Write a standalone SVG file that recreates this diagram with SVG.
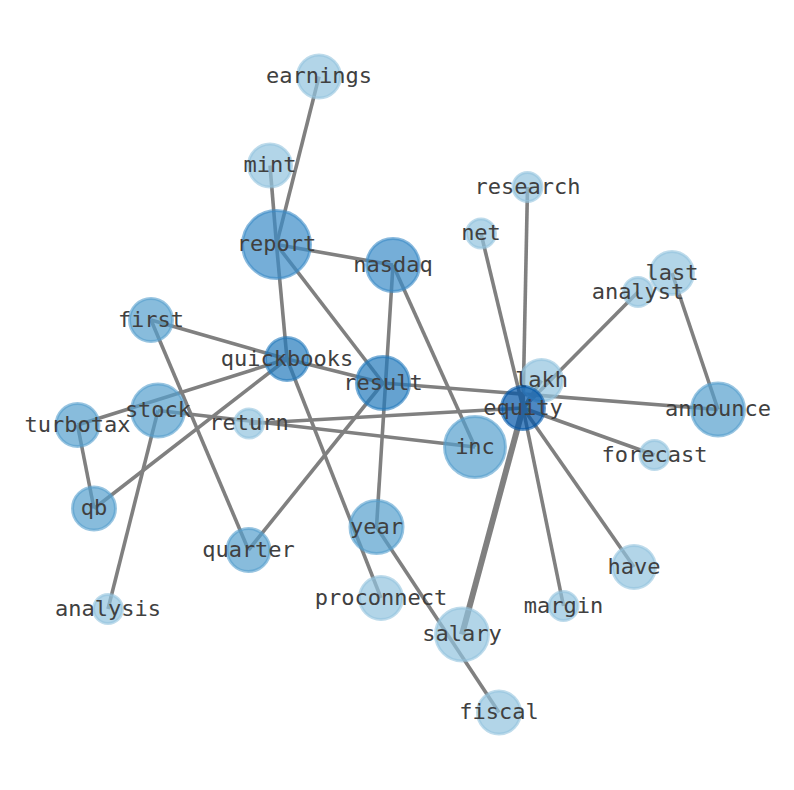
<svg xmlns="http://www.w3.org/2000/svg" width="794" height="790" viewBox="0 0 794 790">
<style>
.e{stroke:#808080;stroke-width:3.6;fill:none;stroke-linecap:butt}
.n circle{fill-opacity:0.7;stroke-opacity:0.6;stroke-width:3}
.n text{font-family:"DejaVu Sans Mono","Liberation Mono",monospace;font-size:22px;fill:#404040;text-anchor:middle}
.l circle{fill:#92c3de;stroke:#92c3de}
.m circle{fill:#559fcd;stroke:#559fcd}
.d circle{fill:#3b8bc7;stroke:#3b8bc7}
.x circle{fill:#237abc;stroke:#237abc}
.z circle{fill:#0156a8;stroke:#0156a8}
</style>
<rect width="794" height="790" fill="#ffffff"/>
<g id="edges">
<line class="e" x1="319" y1="76.5" x2="276.5" y2="244.5"/>
<line class="e" x1="270" y1="165.5" x2="276.5" y2="244.5"/>
<line class="e" x1="276.5" y1="244.5" x2="393" y2="265"/>
<line class="e" x1="276.5" y1="244.5" x2="287" y2="359"/>
<line class="e" x1="276.5" y1="244.5" x2="383" y2="383"/>
<line class="e" x1="393" y1="265" x2="376.5" y2="527"/>
<line class="e" x1="393" y1="265" x2="475" y2="447"/>
<line class="e" x1="527.5" y1="187" x2="523" y2="408"/>
<line class="e" x1="481" y1="233.5" x2="523" y2="408"/>
<line class="e" x1="638" y1="292" x2="523" y2="408"/>
<line class="e" x1="672" y1="273" x2="718" y2="409.5"/>
<line class="e" x1="151" y1="320" x2="287" y2="359"/>
<line class="e" x1="287" y1="359" x2="383" y2="383"/>
<line class="e" x1="151" y1="320" x2="248.5" y2="550"/>
<line class="e" x1="77.5" y1="425" x2="287" y2="359"/>
<line class="e" x1="94" y1="508.5" x2="287" y2="359"/>
<line class="e" x1="287" y1="359" x2="381" y2="598"/>
<line class="e" x1="158" y1="410.5" x2="475" y2="447"/>
<line class="e" x1="249" y1="423.5" x2="523" y2="408"/>
<line class="e" x1="158" y1="410.5" x2="108" y2="609"/>
<line class="e" x1="77.5" y1="425" x2="94" y2="508.5"/>
<line class="e" x1="383" y1="383" x2="718" y2="409.5"/>
<line class="e" x1="383" y1="383" x2="248.5" y2="550"/>
<line class="e" x1="523" y1="408" x2="654.5" y2="455"/>
<line class="e" x1="523" y1="408" x2="634" y2="567"/>
<line class="e" x1="523" y1="408" x2="563.5" y2="606"/>
<line class="e" x1="523" y1="408" x2="462" y2="634.5" style="stroke-width:6"/>
<line class="e" x1="541.5" y1="380.5" x2="523" y2="408"/>
<line class="e" x1="376.5" y1="527" x2="499" y2="712.5"/>
</g>
<g id="node-earnings" class="n l"><circle cx="319" cy="76.5" r="21.5"/><text x="319" y="83">earnings</text></g>
<g id="node-mint" class="n l"><circle cx="270" cy="165.5" r="21.5"/><text x="270" y="172">mint</text></g>
<g id="node-report" class="n d"><circle cx="276.5" cy="244.5" r="34"/><text x="276.5" y="251">report</text></g>
<g id="node-nasdaq" class="n d"><circle cx="393" cy="265" r="26.5"/><text x="393" y="271.5">nasdaq</text></g>
<g id="node-research" class="n l"><circle cx="527.5" cy="187" r="14.5"/><text x="527.5" y="193.5">research</text></g>
<g id="node-net" class="n l"><circle cx="481" cy="233.5" r="14.5"/><text x="481" y="240">net</text></g>
<g id="node-last" class="n l"><circle cx="672" cy="273" r="21.5"/><text x="672" y="279.5">last</text></g>
<g id="node-analyst" class="n l"><circle cx="638" cy="292" r="14.5"/><text x="638" y="298.5">analyst</text></g>
<g id="node-first" class="n m"><circle cx="151" cy="320" r="21.5"/><text x="151" y="326.5">first</text></g>
<g id="node-quickbooks" class="n x"><circle cx="287" cy="359" r="21.5"/><text x="287" y="365.5">quickbooks</text></g>
<g id="node-result" class="n x"><circle cx="383" cy="383" r="26.5"/><text x="383" y="389.5">result</text></g>
<g id="node-turbotax" class="n m"><circle cx="77.5" cy="425" r="21.5"/><text x="77.5" y="431.5">turbotax</text></g>
<g id="node-stock" class="n m"><circle cx="158" cy="410.5" r="26.5"/><text x="158" y="417">stock</text></g>
<g id="node-return" class="n l"><circle cx="249" cy="423.5" r="14.5"/><text x="249" y="430">return</text></g>
<g id="node-inc" class="n m"><circle cx="475" cy="447" r="30.5"/><text x="475" y="453.5">inc</text></g>
<g id="node-lakh" class="n l"><circle cx="541.5" cy="380.5" r="21"/><text x="541.5" y="387">lakh</text></g>
<g id="node-equity" class="n z"><circle cx="523" cy="408" r="21.5"/><text x="523" y="414.5">equity</text></g>
<g id="node-announce" class="n m"><circle cx="718" cy="409.5" r="26.5"/><text x="718" y="416">announce</text></g>
<g id="node-forecast" class="n l"><circle cx="654.5" cy="455" r="14.5"/><text x="654.5" y="461.5">forecast</text></g>
<g id="node-qb" class="n m"><circle cx="94" cy="508.5" r="21.5"/><text x="94" y="515">qb</text></g>
<g id="node-year" class="n m"><circle cx="376.5" cy="527" r="26.5"/><text x="376.5" y="533.5">year</text></g>
<g id="node-quarter" class="n m"><circle cx="248.5" cy="550" r="21.5"/><text x="248.5" y="556.5">quarter</text></g>
<g id="node-have" class="n l"><circle cx="634" cy="567" r="21.5"/><text x="634" y="573.5">have</text></g>
<g id="node-salary" class="n l"><circle cx="462" cy="634.5" r="26.5"/><text x="462" y="641">salary</text></g>
<g id="node-proconnect" class="n l"><circle cx="381" cy="598" r="21.5"/><text x="381" y="604.5">proconnect</text></g>
<g id="node-analysis" class="n l"><circle cx="108" cy="609" r="14.5"/><text x="108" y="615.5">analysis</text></g>
<g id="node-margin" class="n l"><circle cx="563.5" cy="606" r="14.5"/><text x="563.5" y="612.5">margin</text></g>
<g id="node-fiscal" class="n l"><circle cx="499" cy="712.5" r="21.5"/><text x="499" y="719">fiscal</text></g>
</svg>
